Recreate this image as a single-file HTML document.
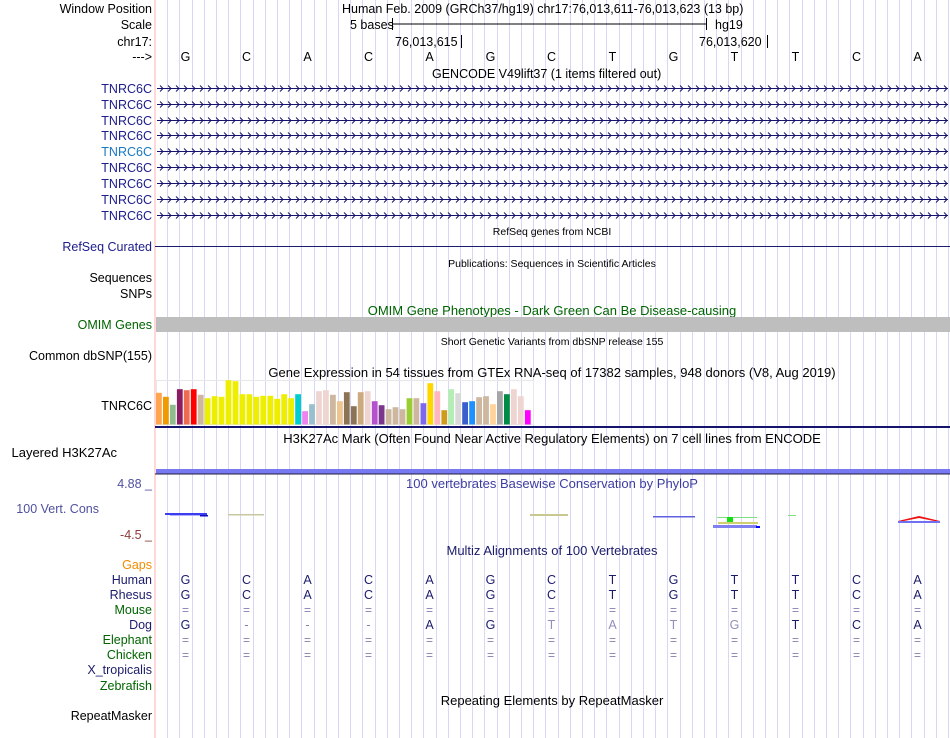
<!DOCTYPE html>
<html><head><meta charset="utf-8"><style>
html,body{margin:0;padding:0;background:#fff;width:950px;height:738px;overflow:hidden}
svg{display:block;font-family:"Liberation Sans",sans-serif}
</style></head><body>
<svg id="s" width="950" height="738" xmlns="http://www.w3.org/2000/svg">
<g id="grid"></g>
<line x1="155" y1="0" x2="155" y2="738" stroke="#ffb0b0" stroke-width="1"/>
<g font-size="12.5" text-anchor="end" fill="#000">
<text x="152" y="13">Window Position</text>
<text x="152" y="29">Scale</text>
<text x="152" y="46">chr17:</text>
<text x="152" y="61">---&gt;</text>
<g fill="#1c1c8c">
<text x="152" y="93">TNRC6C</text><text x="152" y="109">TNRC6C</text><text x="152" y="125">TNRC6C</text>
<text x="152" y="140">TNRC6C</text><text x="152" y="156" fill="#1a78c0">TNRC6C</text><text x="152" y="172">TNRC6C</text>
<text x="152" y="188">TNRC6C</text><text x="152" y="204">TNRC6C</text><text x="152" y="220">TNRC6C</text>
<text x="152" y="251">RefSeq Curated</text>
</g>
<text x="152" y="282">Sequences</text>
<text x="152" y="298">SNPs</text>
<text x="152" y="329" fill="#006400">OMIM Genes</text>
<text x="152" y="360">Common dbSNP(155)</text>
<text x="152" y="410">TNRC6C</text>
<text x="117" y="457" font-size="13">Layered H3K27Ac</text>
<text x="152" y="488" fill="#5050a0">4.88 _</text>
<text x="99" y="513" fill="#5050a0">100 Vert. Cons</text>
<text x="152" y="539" fill="#8c3c3c">-4.5 _</text>
<text x="152" y="569" fill="#f08c00">Gaps</text>
<text x="152" y="584" fill="#1c1c6c">Human</text>
<text x="152" y="599" fill="#1c1c6c">Rhesus</text>
<text x="152" y="614" fill="#006400">Mouse</text>
<text x="152" y="629" fill="#1c1c6c">Dog</text>
<text x="152" y="644" fill="#006400">Elephant</text>
<text x="152" y="659" fill="#006400">Chicken</text>
<text x="152" y="674" fill="#1c1c6c">X_tropicalis</text>
<text x="152" y="690" fill="#006400">Zebrafish</text>
<text x="152" y="720">RepeatMasker</text>
</g>
<g font-size="12.5" fill="#000">
<text x="342" y="13">Human Feb. 2009 (GRCh37/hg19)   chr17:76,013,611-76,013,623 (13 bp)</text>
<text x="350" y="29">5 bases</text>
<text x="715" y="29">hg19</text>
<text x="395" y="46">76,013,615</text>
<text x="699" y="46">76,013,620</text>
<text x="432" y="78">GENCODE V49lift37 (1 items filtered out)</text>
</g>
<g font-size="13" fill="#000" text-anchor="middle">
<text x="552" y="377">Gene Expression in 54 tissues from GTEx RNA-seq of 17382 samples, 948 donors (V8, Aug 2019)</text>
<text x="552" y="443">H3K27Ac Mark (Often Found Near Active Regulatory Elements) on 7 cell lines from ENCODE</text>
<text x="552" y="488" fill="#3c3ca0">100 vertebrates Basewise Conservation by PhyloP</text>
<text x="552" y="555" fill="#1c1c6c">Multiz Alignments of 100 Vertebrates</text>
<text x="552" y="315" fill="#006400">OMIM Gene Phenotypes - Dark Green Can Be Disease-causing</text>
<text x="552" y="705">Repeating Elements by RepeatMasker</text>
</g>
<g font-size="10.5" fill="#000" text-anchor="middle">
<text x="552" y="235">RefSeq genes from NCBI</text>
<text x="552" y="267">Publications: Sequences in Scientific Articles</text>
<text x="552" y="345">Short Genetic Variants from dbSNP release 155</text>
</g>
<line x1="392" y1="24" x2="707" y2="24" stroke="#000"/>
<line x1="392.5" y1="18" x2="392.5" y2="30" stroke="#000"/>
<line x1="706.5" y1="18" x2="706.5" y2="30" stroke="#000"/>
<line x1="461.5" y1="35" x2="461.5" y2="48" stroke="#000"/>
<line x1="767.5" y1="35" x2="767.5" y2="48" stroke="#000"/>
<g id="dyn"></g>
<line x1="155" y1="246.5" x2="950" y2="246.5" stroke="#1c1c6c"/>
<rect x="156" y="317" width="794" height="15" fill="#bebebe"/>
<line x1="155" y1="427" x2="950" y2="427" stroke="#14146e" stroke-width="2"/>
<rect x="156" y="469" width="794" height="4.5" fill="#7878f0"/>
<line x1="155" y1="474" x2="950" y2="474" stroke="#1c1c3c" stroke-width="1"/>
<g>
<rect x="165" y="513" width="42" height="2" fill="#3c3cf0"/><rect x="170" y="515" width="34" height="1" fill="#b0b0ff"/>
<rect x="200" y="515" width="8" height="1.5" fill="#1010c0"/>
<rect x="228" y="514" width="36" height="1.5" fill="#c8c8a0"/>
<rect x="530" y="514" width="38" height="2" fill="#c8c890"/>
<rect x="653" y="516" width="42" height="1.5" fill="#6060e0"/>
<rect x="717" y="517" width="40" height="1" fill="#80e080"/>
<rect x="727" y="517" width="6" height="6" fill="#10e010"/>
<rect x="718" y="522" width="40" height="2" fill="#d0d070"/>
<rect x="713" y="525" width="44" height="3" fill="#8080f0"/>
<rect x="756" y="526" width="4" height="2" fill="#00f"/>
<rect x="788" y="515" width="8" height="1" fill="#80e080"/>
<polygon points="898,521 919,516 940,521 934,521 919,518 904,521" fill="#f01010"/>
<rect x="898" y="521" width="42" height="2" fill="#7070f0"/>
</g>
</svg>
<script>
var NS="http://www.w3.org/2000/svg";
function el(p,t,a,txt){var e=document.createElementNS(NS,t);for(var k in a)e.setAttribute(k,a[k]);if(txt!=null)e.textContent=txt;p.appendChild(e);return e;}
var g=document.getElementById('grid'),d=document.getElementById('dyn');
var W=61;
for(var k=1;k<66;k++){var x=Math.round(155+k*W/5)+0.5;el(g,'line',{x1:x,y1:0,x2:x,y2:738,stroke:'#d8d8f6','stroke-width':1});}
var seq="GCACAGCTGTTCA";
var dog="G---AGTATGTCA", dogGray=[6,7,8,9];
for(var i=0;i<13;i++){
 var cx=155+W*i+30.5;
 el(d,'text',{x:cx,y:61,'font-size':12.5,'text-anchor':'middle',fill:'#000'},seq[i]);
 el(d,'text',{x:cx,y:584,'font-size':12.5,'text-anchor':'middle',fill:'#1c1c6c'},seq[i]);
 el(d,'text',{x:cx,y:599,'font-size':12.5,'text-anchor':'middle',fill:'#1c1c6c'},seq[i]);
 el(d,'text',{x:cx,y:614,'font-size':12,'text-anchor':'middle',fill:'#8080b0'},'=');
 var c=dog[i];
 el(d,'text',{x:cx,y:629,'font-size':12.5,'text-anchor':'middle',fill:c=='-'?'#8080b0':(dogGray.indexOf(i)>=0?'#9090b8':'#1c1c6c')},c);
 el(d,'text',{x:cx,y:644,'font-size':12,'text-anchor':'middle',fill:'#8080b0'},'=');
 el(d,'text',{x:cx,y:659,'font-size':12,'text-anchor':'middle',fill:'#8080b0'},'=');
}
var ys=[88,104,120,135,151,167,183,199,215];
ys.forEach(function(y){
 el(d,'line',{x1:157,y1:y+0.5,x2:948,y2:y+0.5,stroke:'#14146e'});
 var p='';for(var x=160;x<946;x+=8){p+='M'+x+' '+(y-2.5)+'L'+(x+3)+' '+(y+0.5)+'L'+x+' '+(y+3.5);}
 el(d,'path',{d:p,stroke:'#14146e',fill:'none','stroke-width':1});
});
var cols=["#FFA54F","#EE9A00","#8FBC8F","#8B1C62","#EE6A50","#FF0000","#CDB79E","#EEEE00","#EEEE00","#EEEE00","#EEEE00","#EEEE00","#EEEE00","#EEEE00","#EEEE00","#EEEE00","#EEEE00","#EEEE00","#EEEE00","#EEEE00","#00CDCD","#EE82EE","#9AC0CD","#EED5D2","#EED5D2","#CDB79E","#EEC591","#8B7355","#8B7355","#CDAA7D","#EED5D2","#B452CD","#7A378B","#CDB79E","#CDB79E","#CDB79E","#9ACD32","#CDB79E","#7B68EE","#FFD700","#FFB6C1","#CD9B1D","#B4EEB4","#D9D9D9","#3A5FCD","#1E90FF","#CDB79E","#CDB79E","#FFD39B","#A6A6A6","#008B45","#EED5D2","#EED5D2","#FF00FF"];
var tops=[68,80,104,57,60,57,74,84,78,80,30,33,72,72,80,77,77,86,72,84,72,123,102,63,60,74,93,66,108,66,63,93,105,117,111,117,84,84,99,39,63,120,57,69,96,93,81,78,102,63,72,57,78,120];
el(d,'rect',{x:156.5,y:380.5,width:377,height:44,fill:'none',stroke:'#e8e8e8'});
for(var i=0;i<54;i++){var h=(163-tops[i])/3;el(d,'rect',{x:(156+i*6.96).toFixed(1),y:(424.5-h).toFixed(1),width:5.8,height:h.toFixed(1),fill:cols[i]});}
</script>
</body></html>
